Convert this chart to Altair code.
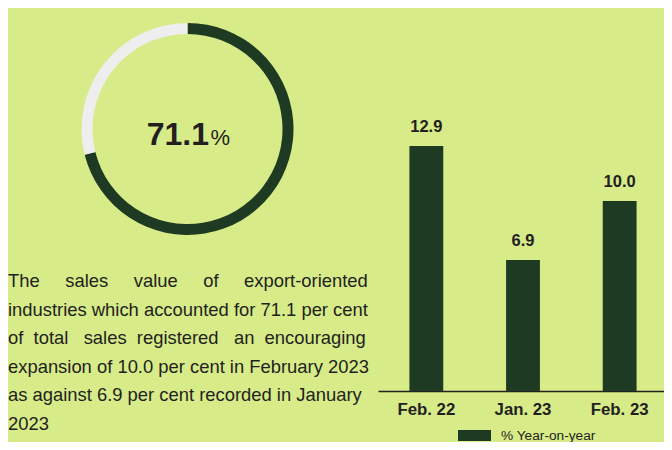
import altair as alt
import pandas as pd

# ---- data ----
share_labels = ["Export-oriented", "Other"]
share_values = [71.1, 28.9]

periods = ["Feb. 22", "Jan. 23", "Feb. 23"]
yoy_values = [12.9, 6.9, 10.0]
series_name = "% Year-on-year"

center_main = "71.1"
center_unit = "%"

para_lines = [
    "The sales value of export-oriented",
    "industries which accounted for 71.1 per cent",
    "of total sales registered an encouraging",
    "expansion of 10.0 per cent in February 2023",
    "as against 6.9 per cent recorded in January",
    "2023",
]

# ---- styles ----
BG = "#d7eb88"
DARK = "#1e3a23"
LIGHT = "#eeeeee"
TXT = "#231f20"
SANS = "Liberation Sans, Arial, Helvetica, sans-serif"

# extra non-breaking spaces per word gap, to imitate the justified paragraph
gap_extra = [[4, 4, 4, 4], [], [1, 2, 1, 2, 1], [], [], []]
NBSP = "\u00a0"


def justify(line, extras):
    words = line.split(" ")
    if not extras:
        return line
    out = words[0]
    for w, e in zip(words[1:], extras):
        out += " " + NBSP * e + w
    return out


para_text = "\n".join(justify(l, e) for l, e in zip(para_lines, gap_extra))

donut_df = pd.DataFrame({"part": share_labels, "value": share_values, "order": [0, 1]})
bars_df = pd.DataFrame({"period": periods, "value": yoy_values, "series": [series_name] * 3})

# ---- donut + texts ----
arc = alt.Chart(donut_df).mark_arc(outerRadius=106, innerRadius=95).encode(
    theta=alt.Theta("value:Q", stack=True),
    order=alt.Order("order:Q"),
    fill=alt.Fill("part:N", scale=alt.Scale(domain=share_labels, range=[DARK, LIGHT]), legend=None),
    x=alt.value(179.5),
    y=alt.value(121),
)

main_txt = alt.Chart(pd.DataFrame({"t": [center_main]})).mark_text(
    font=SANS, fontSize=32, fontWeight="bold", color=TXT, align="right", baseline="alphabetic"
).encode(text="t:N", x=alt.value(201), y=alt.value(137))

unit_txt = alt.Chart(pd.DataFrame({"t": [center_unit]})).mark_text(
    font=SANS, fontSize=22, color=TXT, align="left", baseline="alphabetic"
).encode(text="t:N", x=alt.value(202.5), y=alt.value(137))

para = alt.Chart(pd.DataFrame({"t": [para_text]})).mark_text(
    font=SANS, fontSize=18.4, color=TXT, align="left", baseline="alphabetic",
    lineBreak="\n", lineHeight=28.6
).encode(text="t:N", x=alt.value(0), y=alt.value(279))

# ---- bars ----
base = alt.Chart(bars_df).encode(
    x=alt.X(
        "period:N",
        sort=periods,
        title=None,
        scale=alt.Scale(range=[370, 660], paddingInner=0.65, paddingOuter=0.325),
        axis=alt.Axis(
            labelAngle=0, ticks=False, domainColor="#222222", domainWidth=1.5,
            labelFont=SANS, labelFontSize=16.8, labelFontWeight="bold", labelColor=TXT,
            labelPadding=10, grid=False,
        ),
    ),
    y=alt.Y("value:Q", scale=alt.Scale(domain=[0, 20.17], nice=False), axis=None),
)

bars = base.mark_bar().encode(
    color=alt.Color(
        "series:N",
        scale=alt.Scale(range=[DARK]),
        legend=alt.Legend(
            title=None, orient="none", legendX=450, legendY=411,
            symbolType="M-1,-0.333H1V0.333H-1Z", symbolSize=1089, symbolStrokeWidth=0,
            symbolOpacity=1,
            labelFont=SANS, labelFontSize=13.7, labelColor=TXT, labelOffset=10,
        ),
    )
)

labels = base.mark_text(
    font=SANS, fontSize=16.5, fontWeight="bold", color=TXT, baseline="alphabetic", dy=-14
).encode(text=alt.Text("value:Q", format=".1f"))

chart = (
    alt.layer(arc, main_txt, unit_txt, para, bars, labels)
    .resolve_scale(color="independent")
    .properties(
        width=656,
        height=383,
        autosize=alt.AutoSizeParams(type="none"),
        padding={"left": 0, "top": 0, "right": 0, "bottom": 51},
        background=BG,
    )
    .configure_view(stroke=None)
)

chart.save("out.html", embed_options={"renderer": "svg", "actions": False})
